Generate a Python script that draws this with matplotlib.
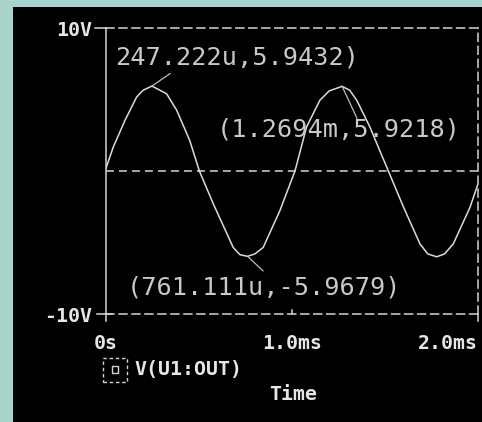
import matplotlib
matplotlib.use("Agg")
import matplotlib.pyplot as plt
from matplotlib.patches import Rectangle
from matplotlib.lines import Line2D

# ---- data ----
time_ms = [0.000, 0.039, 0.102, 0.165, 0.200, 0.247, 0.326, 0.380, 0.450, 0.502,
           0.577, 0.684, 0.720, 0.761, 0.800, 0.845, 0.935, 1.016, 1.078, 1.150,
           1.200, 1.269, 1.310, 1.348, 1.419, 1.518, 1.600, 1.688, 1.730, 1.778,
           1.820, 1.867, 1.957, 2.000]
v_out = [0.20, 1.67, 3.54, 5.18, 5.65, 5.94, 5.40, 4.25, 2.14, 0.00,
         -2.30, -5.35, -5.85, -5.97, -5.80, -5.35, -2.77, 0.00, 3.07, 4.95,
         5.60, 5.92, 5.65, 4.95, 3.07, 0.00, -2.54, -5.10, -5.80, -6.00,
         -5.80, -5.10, -2.54, -0.90]

x_ticks = [0, 1, 2]
x_tick_labels = ["0s", "1.0ms", "2.0ms"]
y_ticks = [-10, 10]
y_tick_labels = ["-10V", "10V"]

marker_points = [(0.247222, 5.9432), (1.2694, 5.9218), (0.761111, -5.9679)]
marker_texts = ["247.222u,5.9432)", "(1.2694m,5.9218)", "(761.111u,-5.9679)"]
marker_leader_ends = [(0.344, 6.81), (1.349, 3.70), (0.844, -6.98)]
marker_text_pos = [(0.047, 7.95), (0.598, 2.90), (0.113, -8.17)]

legend_label = "V(U1:OUT)"
x_axis_title = "Time"

# ---- styling ----
W, H = 482, 422
def fx(px): return px / W
def fy(py): return 1 - py / H

LINE = "#d4d4d4"
TXT = "#e6e6e6"
ANN = "#c9c9c9"
MONO = "DejaVu Sans Mono"
TSIZE = 14.3

fig = plt.figure(figsize=(W / 100, H / 100), dpi=100)
fig.patch.set_facecolor("#a9d4cb")
fig.add_artist(Rectangle((fx(13), 0), 1 - fx(13), fy(7), transform=fig.transFigure,
                         facecolor="black", edgecolor="none", zorder=0))

L, R, T, B = 106, 478, 28, 314
ax = fig.add_axes([fx(L), fy(B), fx(R) - fx(L), fy(T) - fy(B)])
ax.set_facecolor("black")
ax.set_xlim(0, 2)
ax.set_ylim(-10, 10)

dash = (0, (5.2, 3.3))
for side in ["top", "bottom", "right"]:
    ax.spines[side].set_color(LINE)
    ax.spines[side].set_linewidth(1.1)
    ax.spines[side].set_linestyle(dash)
ax.spines["left"].set_color(LINE)
ax.spines["left"].set_linewidth(1.1)

ax.axhline(0, color=LINE, lw=1.1, linestyle=dash)

ax.plot(time_ms, v_out, color="#dcdcdc", lw=1.1)

# markers / annotations
for (px, py), (ex, ey), (tx, ty), s in zip(marker_points, marker_leader_ends,
                                            marker_text_pos, marker_texts):
    ax.plot([px, ex], [py, ey], color="#bdbdbd", lw=0.9)
    ax.text(tx, ty, s, color=ANN, fontsize=18.2, family=MONO, va="center", ha="left")

# ticks
ax.set_xticks(x_ticks)
ax.set_xticklabels(x_tick_labels)
ax.set_yticks(y_ticks)
ax.set_yticklabels(y_tick_labels)
ax.tick_params(length=0, colors=TXT)
ax.tick_params(axis="x", pad=14.5)
ax.tick_params(axis="y", pad=10)
for lab in ax.get_xticklabels() + ax.get_yticklabels():
    lab.set_family(MONO)
    lab.set_fontweight("bold")
    lab.set_fontsize(TSIZE)
    lab.set_color(TXT)
xl = ax.get_xticklabels()
xl[-1].set_ha("right")

# small tick decorations
def fl(x0, y0, x1, y1):
    fig.add_artist(Line2D([fx(x0), fx(x1)], [fy(y0), fy(y1)], transform=fig.transFigure,
                          color=LINE, lw=1.1))
fl(95, T, L, T)
fl(97, B, 112, B)
fl(L, B, L, 321)
fl(R, B, R, 321)
fl(292, B, 292, B - 4)

# legend
fig.add_artist(Rectangle((fx(103), fy(382)), fx(127) - fx(103), fy(358) - fy(382),
                         transform=fig.transFigure, facecolor="none", edgecolor=LINE,
                         lw=1.0, linestyle=(0, (2.5, 2))))
fig.add_artist(Rectangle((fx(112), fy(373)), fx(118) - fx(112), fy(366) - fy(373),
                         transform=fig.transFigure, facecolor="none", edgecolor=LINE, lw=1.0))
fig.text(fx(134), fy(370), legend_label, color=TXT, family=MONO, fontweight="bold",
         fontsize=TSIZE, va="center", ha="left")
fig.text(fx(293), fy(394), x_axis_title, color=TXT, family=MONO, fontweight="bold",
         fontsize=TSIZE, va="center", ha="center")

fig.savefig("out.png", dpi=100, facecolor=fig.get_facecolor())
